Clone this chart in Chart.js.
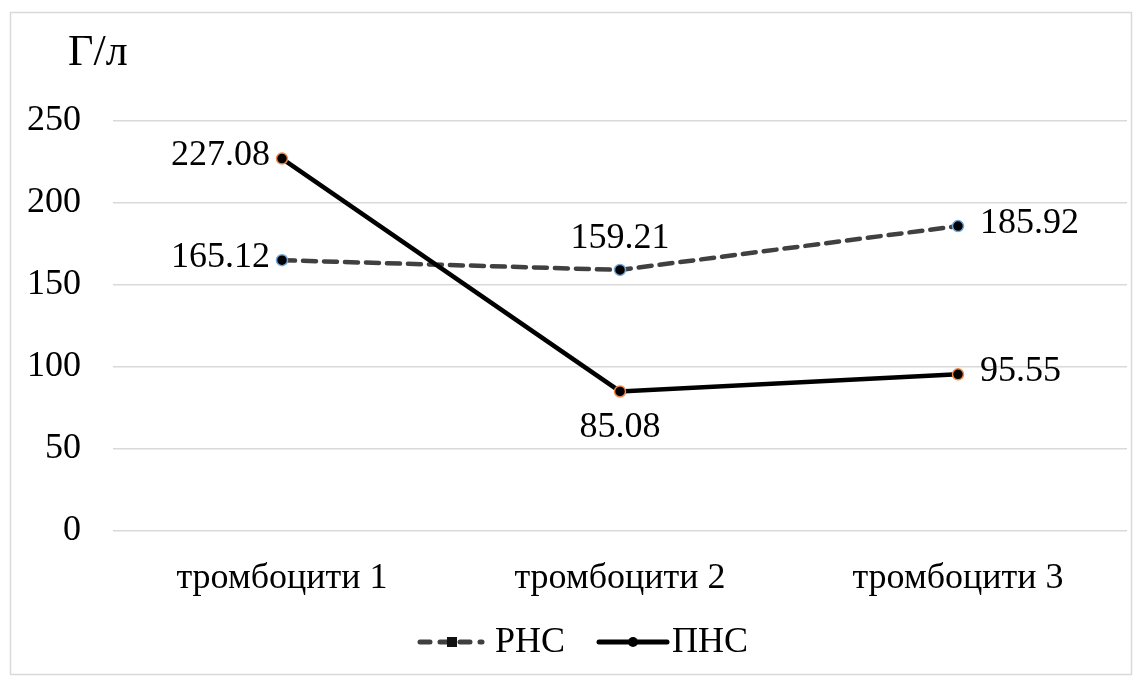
<!DOCTYPE html>
<html>
<head>
<meta charset="utf-8">
<script src="https://cdn.jsdelivr.net/npm/chart.js@4.4.0/dist/chart.umd.min.js"></script>
<style>
  html, body { margin: 0; padding: 0; background: #fff; }
  #wrap { width: 1142px; height: 682px; }
</style>
</head>
<body>
<div id="wrap"><canvas id="c" width="1142" height="682"></canvas></div>
<script>
// categorias y valores
const categories = ['тромбоцити 1', 'тромбоцити 2', 'тромбоцити 3'];
const rnsValues = [165.12, 159.21, 185.92];
const pnsValues = [227.08, 85.08, 95.55];
const rnsLabelPos = ['left', 'top', 'right'];
const pnsLabelPos = ['left', 'bottom', 'right'];
const seriesNames = ['РНС', 'ПНС'];
const unitLabel = 'Г/л';

const FONT = '"Liberation Serif", "Times New Roman", serif';

// --- etiquetas de datos (sin plugin externo)
const dataLabels = {
  id: 'dataLabels',
  afterDatasetsDraw(chart) {
    const ctx = chart.ctx;
    ctx.save();
    ctx.font = '36px ' + FONT;
    ctx.fillStyle = '#000';
    chart.data.datasets.forEach((ds, i) => {
      const meta = chart.getDatasetMeta(i);
      meta.data.forEach((pt, j) => {
        const pos = ds.labelPos[j];
        const txt = ds.data[j].toFixed(2);
        let x = pt.x, y = pt.y;
        if (pos === 'left') { ctx.textAlign = 'right'; ctx.textBaseline = 'middle'; x -= 12; y -= 3; }
        else if (pos === 'right') { ctx.textAlign = 'left'; ctx.textBaseline = 'middle'; x += 22; y -= 3; }
        else if (pos === 'top') { ctx.textAlign = 'center'; ctx.textBaseline = 'alphabetic'; y -= 22; }
        else { ctx.textAlign = 'center'; ctx.textBaseline = 'top'; y += 18; }
        ctx.fillText(txt, x, y);
      });
    });
    ctx.restore();
  }
};

// --- marco, unidad y leyenda
const extras = {
  id: 'extras',
  beforeDraw(chart) {
    const ctx = chart.ctx;
    ctx.save();
    ctx.fillStyle = '#fff';
    ctx.fillRect(0, 0, chart.width, chart.height);
    ctx.strokeStyle = '#d9d9d9';
    ctx.lineWidth = 1.5;
    ctx.strokeRect(10.5, 12.5, 1121, 662);
    ctx.restore();
  },
  afterDraw(chart) {
    const ctx = chart.ctx;
    ctx.save();
    ctx.fillStyle = '#000';
    ctx.font = '44px ' + FONT;
    ctx.textAlign = 'left';
    ctx.textBaseline = 'alphabetic';
    ctx.fillText(unitLabel, 68, 65);

    // leyenda
    const ly = 642;
    const d0 = chart.data.datasets[0], d1 = chart.data.datasets[1];
    ctx.lineCap = 'round';
    ctx.strokeStyle = d0.borderColor;
    ctx.lineWidth = 5;
    ctx.setLineDash([10, 10]);
    ctx.beginPath(); ctx.moveTo(420, ly); ctx.lineTo(482, ly); ctx.stroke();
    ctx.setLineDash([]);
    ctx.fillStyle = '#111';
    ctx.fillRect(447, ly - 5, 10, 10);
    ctx.strokeStyle = d1.borderColor;
    ctx.beginPath(); ctx.moveTo(599, ly); ctx.lineTo(667, ly); ctx.stroke();
    ctx.beginPath(); ctx.arc(633, ly, 5, 0, Math.PI * 2); ctx.fillStyle = '#000'; ctx.fill();
    ctx.font = '36px ' + FONT;
    ctx.textBaseline = 'middle';
    ctx.fillStyle = '#000';
    ctx.fillText(seriesNames[0], 495, ly + 1);
    ctx.fillText(seriesNames[1], 672, ly + 1);
    ctx.restore();
  }
};

new Chart(document.getElementById('c'), {
  type: 'line',
  data: {
    labels: categories,
    datasets: [
      {
        label: seriesNames[0], data: rnsValues, labelPos: rnsLabelPos,
        borderColor: '#404040', borderWidth: 4.5, borderDash: [13, 8], borderCapStyle: 'round',
        pointRadius: 5.5, pointBackgroundColor: '#000', pointBorderColor: '#6fa8dc', pointBorderWidth: 1.5,
        tension: 0, order: 1
      },
      {
        label: seriesNames[1], data: pnsValues, labelPos: pnsLabelPos,
        borderColor: '#000', borderWidth: 4.5, borderCapStyle: 'round',
        pointRadius: 5.5, pointBackgroundColor: '#000', pointBorderColor: '#f08a4b', pointBorderWidth: 1.5,
        tension: 0, order: 0
      }
    ]
  },
  options: {
    responsive: false,
    animation: false,
    layout: { padding: { left: 0, right: 15, top: 121, bottom: 81 } },
    plugins: { legend: { display: false }, tooltip: { enabled: false } },
    scales: {
      x: {
        offset: true,
        grid: { display: false, drawTicks: false },
        border: { display: false },
        ticks: { color: '#000', font: { family: FONT, size: 36 }, padding: 26, maxRotation: 0 },
        afterFit: (s) => { s.height = 70; }
      },
      y: {
        min: 0, max: 250,
        grid: { color: '#d9d9d9', lineWidth: 1.5, drawTicks: false },
        border: { display: false },
        ticks: { stepSize: 50, color: '#000', font: { family: FONT, size: 36 }, padding: 32 },
        afterFit: (s) => { s.width = 113; }
      }
    }
  },
  plugins: [extras, dataLabels]
});
</script>
</body>
</html>
